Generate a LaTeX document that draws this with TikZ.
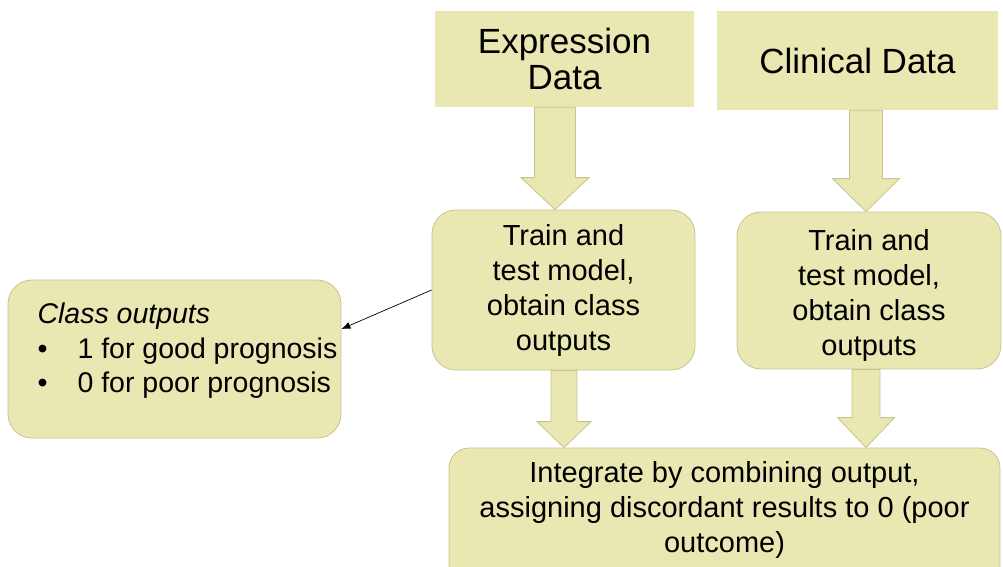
\documentclass[tikz,border=0pt]{standalone}
\usepackage{fontspec}
\setmainfont{Liberation Sans}
\usetikzlibrary{arrows.meta,calc}
\definecolor{khaki}{RGB}{234,232,178}
\definecolor{khakiline}{RGB}{200,196,140}
\tikzset{
  roundbox/.style={fill=khaki,draw=khakiline,line width=0.8pt,rounded corners=24pt},
  body/.style={font=\fontsize{29}{35}\selectfont,align=center},
  title/.style={font=\fontsize{35}{36}\selectfont,align=center},
  blk/.style={fill=khaki,draw=khakiline,line width=0.8pt},
  thinarrow/.style={draw=black,line width=0.7pt,-{Latex[length=9pt,width=7pt]}}
}
% #1 x centre (px), #2 start anchor, #3 end anchor, #4 half shaft, #5 half head, #6 head length
\newcommand\blockarrow[6]{%
  \filldraw[blk] let \p1=(#2), \p2=(#3) in
   (#1pt-#4pt,\y1) -- (#1pt+#4pt,\y1) -- (#1pt+#4pt,\y2+#6pt) -- (#1pt+#5pt,\y2+#6pt)
   -- (#1pt,\y2) -- (#1pt-#5pt,\y2+#6pt) -- (#1pt-#4pt,\y2+#6pt) -- cycle;}
\begin{document}
\begin{tikzpicture}[x=1pt,y=-1pt]
\useasboundingbox (0,0) rectangle (1003,566);
% top boxes
\node[fill=khaki,minimum width=259pt,minimum height=96pt,title] (expr) at (564.5,59) {Expression\\Data};
\node[fill=khaki,minimum width=281pt,minimum height=99pt,title] (clin) at (857.5,60.5) {Clinical Data};
% model boxes
\node[roundbox,minimum width=263pt,minimum height=160pt,body] (tr1) at (563.5,290) {Train and\\test model,\\obtain class\\outputs};
\node[roundbox,minimum width=264pt,minimum height=157pt,body] (tr2) at (869,290.5) {};
\node[body] (tr2t) at (869,295.5) {Train and\\test model,\\obtain class\\outputs};
% class outputs
\node[roundbox,minimum width=333pt,minimum height=158pt] (cls) at (174.5,359) {};
\node[font=\fontsize{28.5}{34.5}\selectfont,align=left,anchor=west] (clst) at (34,351)
  {\textit{Class outputs}\\\makebox[40pt][l]{\textbullet}1 for good prognosis\\\makebox[40pt][l]{\textbullet}0 for poor prognosis};
% integrate
\node[roundbox,rounded corners=20pt,minimum width=551pt,minimum height=152pt] (int) at (724.5,524) {};
\node[body] (intt) at (724.5,510) {Integrate by combining output,\\assigning discordant results to 0 (poor\\outcome)};
% block arrows
\blockarrow{555}{expr.south}{tr1.north}{20.5}{34}{32}
\blockarrow{866}{clin.south}{tr2.north}{16.5}{33.5}{33}
\blockarrow{564}{tr1.south}{int.north}{13}{27}{26}
\blockarrow{866}{tr2.south}{int.north}{14}{28.5}{30}
% thin arrow
\draw[thinarrow] (tr1.west) -- ([yshift=30pt]cls.east);
\end{tikzpicture}
\end{document}
